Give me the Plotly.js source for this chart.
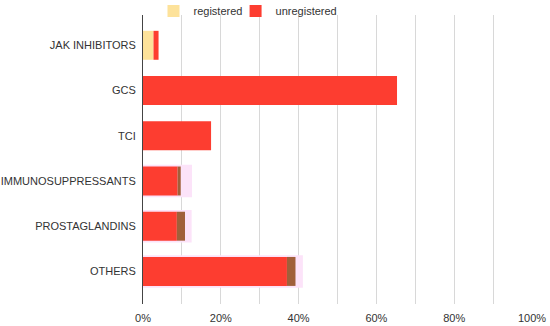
<!DOCTYPE html>
<html>
<head>
<meta charset="utf-8">
<script src="https://cdn.plot.ly/plotly-3.0.1.min.js"></script>
<style>
  html, body { margin: 0; padding: 0; background: #fff; }
  #chart { width: 550px; height: 326px; }
</style>
</head>
<body>
<div id="chart"></div>
<script>
// categories, top to bottom
const categories = ["JAK INHIBITORS", "GCS", "TCI", "IMMUNOSUPPRESSANTS", "PROSTAGLANDINS", "OTHERS"];

// shares (fraction of patients)
const registered   = [0.027, 0, 0, 0, 0, 0];
const unregistered = [0.013, 0.653, 0.175, 0.089, 0.087, 0.370];
// darker overlap segment and pale halo seen behind some bars
const overlap      = [0, 0, 0, 0.008, 0.021, 0.022];
const halo         = [0, 0, 0, 0.126, 0.125, 0.411];

const xTicks = [0, 0.2, 0.4, 0.6, 0.8, 1.0];

const COL_REG = "#fde29a";
const COL_UNREG = "#fd3d30";
const COL_OVER = "#a0603a";
const COL_HALO = "#fce3f9";

const base2 = registered.slice();
const base3 = registered.map((v, i) => v + unregistered[i]);

const traces = [
  { type: "bar", orientation: "h", y: categories, x: halo, base: 0,
    width: 0.72, marker: { color: COL_HALO }, showlegend: false, hoverinfo: "skip" },
  { type: "bar", orientation: "h", name: "registered", y: categories, x: registered, base: 0,
    width: 0.64, marker: { color: COL_REG }, legend: "legend" },
  { type: "bar", orientation: "h", name: "unregistered", y: categories, x: unregistered, base: base2,
    width: 0.64, marker: { color: COL_UNREG }, legend: "legend2" },
  { type: "bar", orientation: "h", y: categories, x: overlap, base: base3,
    width: 0.64, marker: { color: COL_OVER }, showlegend: false, hoverinfo: "skip" }
];

// one legend box per entry so each sits where the reference puts it
const legendBox = (x) => ({ orientation: "h", x: x, xanchor: "left", y: 1.014, yanchor: "middle",
                            font: { size: 11, color: "#333" }, bgcolor: "rgba(0,0,0,0)" });

const layout = {
  width: 550,
  height: 326,
  margin: { l: 143, r: 18, t: 15, b: 22, autoexpand: false },
  barmode: "overlay",
  paper_bgcolor: "#fff",
  plot_bgcolor: "#fff",
  font: { family: "Liberation Sans, Arial, sans-serif", size: 11, color: "#333" },
  showlegend: true,
  legend: legendBox(0.027),
  legend2: legendBox(0.238),
  xaxis: {
    range: [0, 1],
    tickvals: xTicks,
    tickformat: ".0%",
    showgrid: true,
    gridcolor: "#d8d8d8",
    minor: { dtick: 0.1, tick0: 0, showgrid: true, gridcolor: "#d8d8d8" },
    zeroline: false,
    showline: false,
    ticks: "",
    ticklabelstandoff: 6,
    fixedrange: true
  },
  yaxis: {
    type: "category",
    categoryorder: "array",
    categoryarray: categories,
    range: [5.72, -0.67],
    showgrid: false,
    showline: true,
    linecolor: "#444",
    linewidth: 1,
    ticks: "",
    ticklabelstandoff: 4,
    fixedrange: true
  }
};

Plotly.newPlot("chart", traces, layout, { displayModeBar: false, staticPlot: true });
</script>
</body>
</html>
